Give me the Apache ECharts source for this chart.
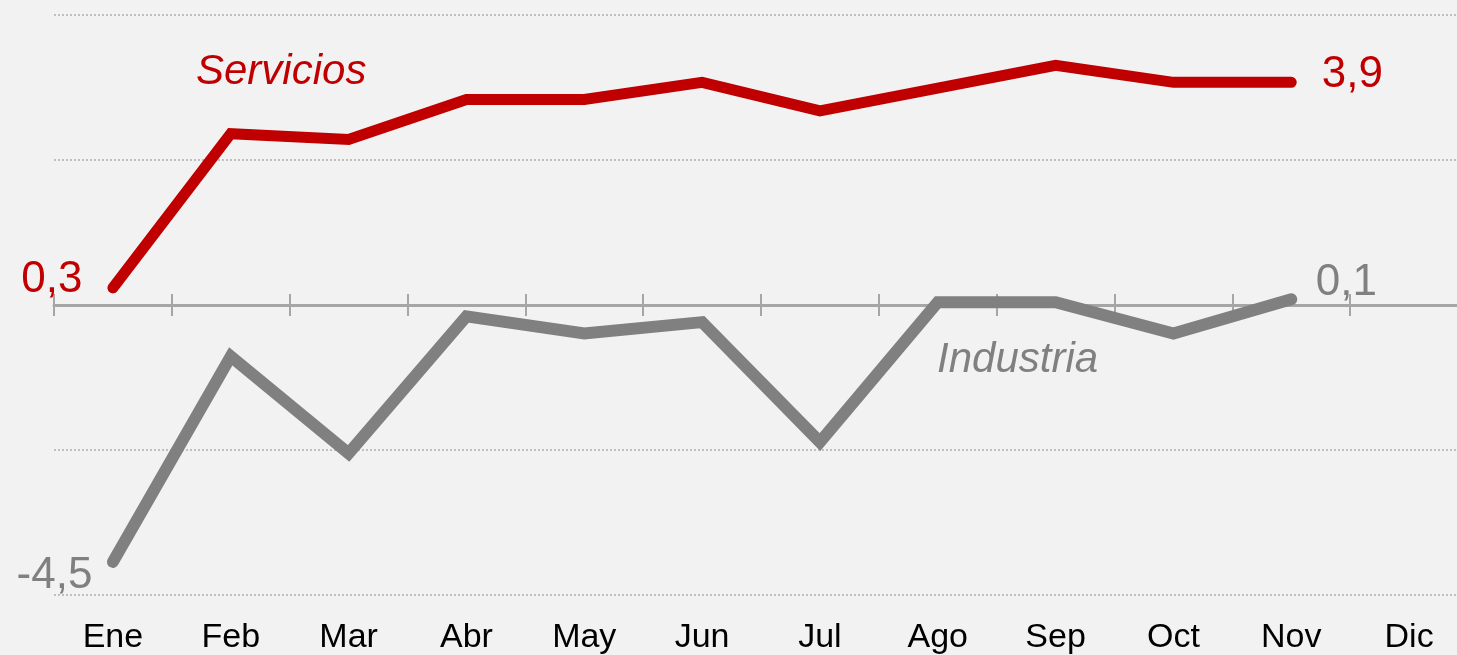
<!DOCTYPE html>
<html>
<head>
<meta charset="utf-8">
<script src="https://cdn.jsdelivr.net/npm/echarts@6/dist/echarts.min.js"></script>
<style>
  html, body { margin: 0; padding: 0; background: #f2f2f2; }
  #chart { width: 1457px; height: 655px; }
</style>
</head>
<body>
<div id="chart"></div>
<script>
  // meses y series (variación, %)
  var meses = ['Ene', 'Feb', 'Mar', 'Abr', 'May', 'Jun', 'Jul', 'Ago', 'Sep', 'Oct', 'Nov', 'Dic'];
  var servicios = [0.3, 3.0, 2.9, 3.6, 3.6, 3.9, 3.4, 3.8, 4.2, 3.9, 3.9];
  var industria = [-4.5, -0.9, -2.6, -0.2, -0.5, -0.3, -2.4, 0.05, 0.05, -0.5, 0.1];

  var ROJO = '#c00000';
  var GRIS = '#808080';
  var FONT = 'Liberation Sans, Arial, sans-serif';

  function coma(p) {
    return String(p.value).replace('.', ',');
  }

  // etiqueta solo en el primer y último punto
  function conEtiquetas(arr, color, first, last) {
    return arr.map(function (v, i) {
      if (i === 0) return {value: v, label: Object.assign({show: true, position: 'left', color: color}, first)};
      if (i === arr.length - 1) return {value: v, label: Object.assign({show: true, position: 'right', color: color}, last)};
      return v;
    });
  }

  var chart = echarts.init(document.getElementById('chart'));
  var option = {
    animation: false,
    backgroundColor: '#f2f2f2',
    textStyle: {fontFamily: FONT},
    grid: {left: 54, top: 15, right: -11, bottom: 60, outerBoundsMode: 'none', containLabel: false},
    xAxis: [
      {
        type: 'category',
        data: meses,
        position: 'bottom',
        axisLine: {show: false, onZero: false},
        axisTick: {show: false},
        axisLabel: {color: '#000', fontSize: 34, fontFamily: FONT, margin: 26, lineHeight: 34}
      },
      {
        type: 'category',
        data: meses,
        position: 'bottom',
        axisLine: {show: true, onZero: true, onZeroAxisIndex: 0, lineStyle: {color: '#a6a6a6', width: 3}},
        axisTick: {show: true, inside: true, length: 11, lineStyle: {color: '#a6a6a6', width: 2}},
        axisLabel: {show: false}
      },
      {
        type: 'category',
        data: meses,
        position: 'bottom',
        axisLine: {show: false, onZero: true, onZeroAxisIndex: 0},
        axisTick: {show: true, inside: false, length: 11, lineStyle: {color: '#a6a6a6', width: 2}},
        axisLabel: {show: false}
      }
    ],
    yAxis: {
      type: 'value',
      min: -5.08,
      max: 5.08,
      interval: 2.54,
      axisLine: {show: false},
      axisTick: {show: false},
      axisLabel: {show: false},
      splitLine: {lineStyle: {color: '#bfbfbf', width: 2, type: [2, 2]}}
    },
    series: [
      {
        name: 'Servicios',
        type: 'line',
        xAxisIndex: 0,
        symbol: 'circle',
        symbolSize: 1,
        itemStyle: {color: ROJO},
        lineStyle: {color: ROJO, width: 11, cap: 'round', join: 'miter'},
        emphasis: {disabled: true},
        label: {fontSize: 44, fontFamily: FONT, formatter: coma},
        data: conEtiquetas(servicios, ROJO, {distance: 30, offset: [0, -8]}, {distance: 30, offset: [0, -8]})
      },
      {
        name: 'Industria',
        type: 'line',
        xAxisIndex: 0,
        symbol: 'circle',
        symbolSize: 1,
        itemStyle: {color: GRIS},
        lineStyle: {color: GRIS, width: 12, cap: 'round', join: 'miter'},
        emphasis: {disabled: true},
        label: {fontSize: 44, fontFamily: FONT, formatter: coma},
        data: conEtiquetas(industria, GRIS, {distance: 20, offset: [0, 14]}, {distance: 24, offset: [0, -16]})
      }
    ],
    graphic: [
      {
        type: 'text', left: 196, top: 51,
        style: {text: 'Servicios', fill: ROJO, font: 'italic 42px ' + FONT}
      },
      {
        type: 'text', left: 937, top: 339,
        style: {text: 'Industria', fill: GRIS, font: 'italic 42px ' + FONT}
      }
    ]
  };
  chart.setOption(option);
</script>
</body>
</html>
